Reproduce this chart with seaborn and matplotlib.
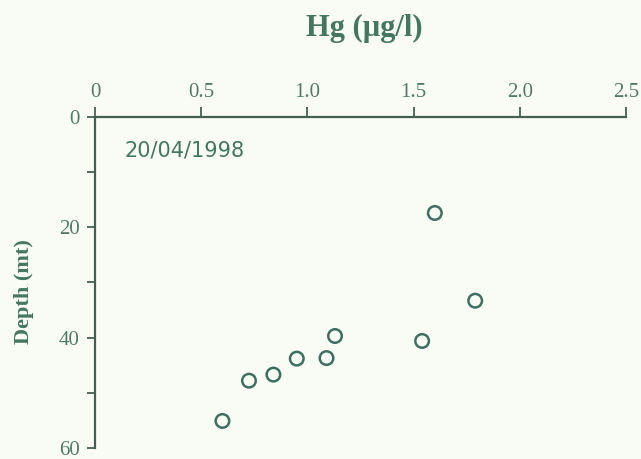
import matplotlib
matplotlib.use("Agg")
import matplotlib.pyplot as plt
import seaborn as sns
import pandas as pd

# Mercury concentration profile, sampled 20/04/1998
hg = [1.60, 1.79, 1.54, 1.13, 1.09, 0.95, 0.84, 0.725, 0.60]
depth = [17.4, 33.3, 40.6, 39.7, 43.7, 43.8, 46.7, 47.8, 55.1]

x_ticks = [0, 0.5, 1.0, 1.5, 2.0, 2.5]
x_tick_labels = ["0", "0.5", "1.0", "1.5", "2.0", "2.5"]
y_major = [0, 20, 40, 60]
y_minor = [10, 30, 50]

df = pd.DataFrame({"Hg": hg, "Depth": depth})

sns.set_theme(style="ticks")
bg = "#f9fcf5"
text_col = "#44775f"
tick_col = "#52796a"
line_col = "#465f55"
plt.rcParams["font.family"] = ["Liberation Serif", "DejaVu Serif"]

fig = plt.figure(figsize=(6.41, 4.59), dpi=100, facecolor=bg)
ax = fig.add_axes([0.1482, 0.0240, 0.8284, 0.7211])
ax.set_facecolor(bg)

sns.scatterplot(data=df, x="Hg", y="Depth", ax=ax, marker="o", s=95,
                facecolors="none", edgecolor="#3f6f62", linewidth=1.8,
                legend=False, clip_on=False)

ax.set_xlim(0, 2.5)
ax.set_ylim(60, 0)

ax.xaxis.tick_top()
ax.set_xticks(x_ticks)
ax.set_xticklabels(x_tick_labels)
ax.set_yticks(y_major)
ax.set_yticks(y_minor, minor=True)
ax.set_xlabel("")
ax.set_ylabel("")

for side in ("right", "bottom"):
    ax.spines[side].set_visible(False)
for side in ("left", "top"):
    ax.spines[side].set_color(line_col)
    ax.spines[side].set_linewidth(1.6)

ax.tick_params(axis="x", which="major", direction="out", length=7, width=1.3,
               color=line_col, labelcolor=tick_col, labelsize=15, pad=4)
ax.tick_params(axis="y", which="both", direction="out", length=6, width=1.3,
               color=line_col, labelcolor=tick_col, labelsize=15, pad=5)

ax.text(0.056, 0.90, "20/04/1998", transform=ax.transAxes, ha="left", va="center",
        fontsize=15, color=text_col, family=["DejaVu Sans"])

fig.text(364 / 641, 1 - 28 / 459, "Hg (µg/l)", ha="center", va="center",
         fontsize=22, fontweight="bold", color=text_col)
fig.text(24 / 641, 1 - 292 / 459, "Depth (mt)", ha="center", va="center",
         rotation=90, fontsize=16, fontweight="bold", color=text_col)

fig.savefig("out.png", dpi=100, facecolor=bg)
